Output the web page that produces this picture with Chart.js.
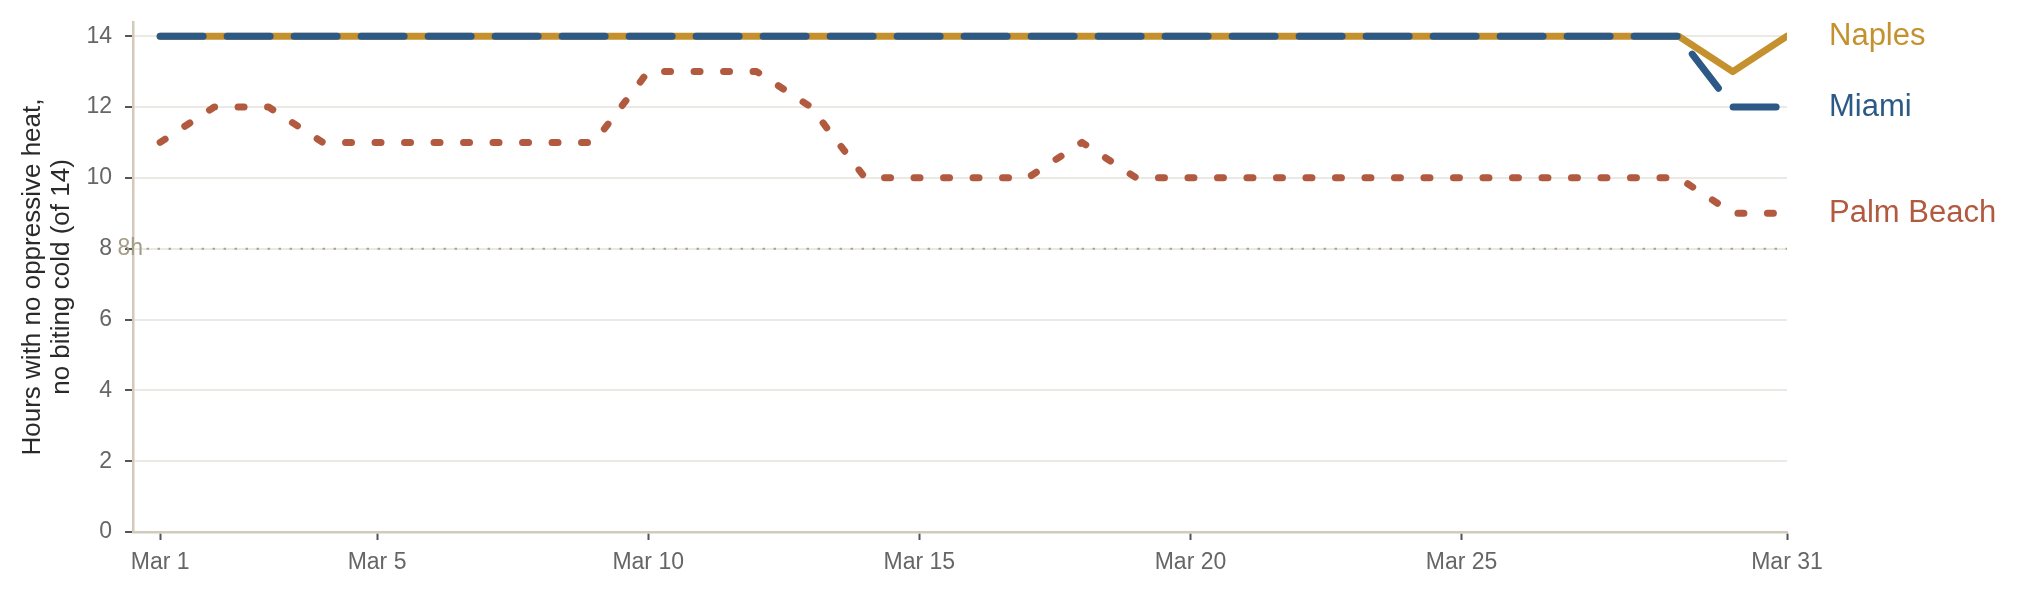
<!DOCTYPE html>
<html>
<head>
<meta charset="utf-8">
<script src="https://cdn.jsdelivr.net/npm/chart.js@4"></script>
<style>
  html, body { margin: 0; padding: 0; background: #fff; }
  canvas { display: block; }
</style>
</head>
<body>
<canvas id="chart" width="2022" height="597"></canvas>
<script>
// March days (x) and hours per city
const days = [1,2,3,4,5,6,7,8,9,10,11,12,13,14,15,16,17,18,19,20,21,22,23,24,25,26,27,28,29,30,31];
const miami     = [14,14,14,14,14,14,14,14,14,14,14,14,14,14,14,14,14,14,14,14,14,14,14,14,14,14,14,14,14,12,12];
const naples    = [14,14,14,14,14,14,14,14,14,14,14,14,14,14,14,14,14,14,14,14,14,14,14,14,14,14,14,14,14,13,14];
const palmBeach = [11,12,12,11,11,11,11,11,11,13,13,13,12,10,10,10,10,11,10,10,10,10,10,10,10,10,10,10,10,9,9];
const xTicks = [1, 5, 10, 15, 20, 25, 31];
const yTicks = [0, 2, 4, 6, 8, 10, 12, 14];
const refHours = 8;

const FONT = '"Liberation Sans", Arial, Helvetica, sans-serif';
const COL = { miami: '#2d5986', naples: '#c4912e', palm: '#b15a3f' };

const pts = arr => days.map((d, i) => ({ x: d, y: arr[i] }));

// reference line + end-of-line labels
const extras = {
    id: 'extras',
    beforeDatasetsDraw(chart) {
        const { ctx, chartArea, scales: { x, y } } = chart;
        const py = y.getPixelForValue(refHours);
        ctx.save();
        ctx.strokeStyle = '#aaa392';
        ctx.lineWidth = 2;
        ctx.setLineDash([2.5, 8.5]);
        ctx.beginPath();
        ctx.moveTo(x.getPixelForValue(0.75), py);
        ctx.lineTo(chartArea.right, py);
        ctx.stroke();
        ctx.restore();
    },
    afterDatasetsDraw(chart) {
        const { ctx, chartArea, scales: { y } } = chart;
        ctx.save();
        ctx.font = '23px ' + FONT;
        ctx.fillStyle = '#a59c86';
        ctx.textAlign = 'right';
        ctx.textBaseline = 'middle';
        ctx.fillText('8h', chartArea.left + 10, y.getPixelForValue(refHours));

        ctx.font = '31px ' + FONT;
        ctx.textAlign = 'left';
        chart.data.datasets.forEach(ds => {
            const last = ds.data[ds.data.length - 1];
            ctx.fillStyle = ds.borderColor;
            ctx.fillText(ds.label, chartArea.right + 42, y.getPixelForValue(last.y));
        });
        ctx.restore();
    }
};

new Chart(document.getElementById('chart'), {
    type: 'line',
    data: {
        datasets: [
            { label: 'Miami', data: pts(miami), borderColor: COL.miami, borderWidth: 7, borderDash: [43, 24] },
            { label: 'Naples', data: pts(naples), borderColor: COL.naples, borderWidth: 7 },
            { label: 'Palm Beach', data: pts(palmBeach), borderColor: COL.palm, borderWidth: 7, borderDash: [6, 23.5] }
        ]
    },
    options: {
        responsive: false,
        animation: false,
        devicePixelRatio: 1,
        layout: { padding: { top: 22, right: 235, bottom: 0, left: 0 } },
        elements: {
            line: { tension: 0, fill: false, borderCapStyle: 'round', borderJoinStyle: 'round' },
            point: { radius: 0, hoverRadius: 0 }
        },
        plugins: { legend: { display: false }, tooltip: { enabled: false } },
        scales: {
            x: {
                type: 'linear',
                min: 0.5,
                max: 31,
                afterBuildTicks: s => { s.ticks = xTicks.map(v => ({ value: v })); },
                afterFit: s => { s.height = 65; },
                grid: { drawOnChartArea: false, tickLength: 8, tickColor: '#555', tickWidth: 2 },
                border: { color: '#d2cabb', width: 2.5 },
                ticks: {
                    color: '#666', padding: 9, maxRotation: 0, autoSkip: false,
                    font: { family: FONT, size: 23 },
                    callback: v => 'Mar ' + v
                }
            },
            y: {
                min: 0,
                max: 14.4,
                afterBuildTicks: s => { s.ticks = yTicks.map(v => ({ value: v })); },
                afterFit: s => { s.width = 133; s.paddingTop = 0; s.paddingBottom = 0; },
                grid: { color: '#ebe9e3', lineWidth: 2, tickLength: 8, tickColor: '#555', tickWidth: 2 },
                border: { color: '#d2cabb', width: 2.5 },
                ticks: { color: '#666', padding: 13, font: { family: FONT, size: 23 } },
                title: {
                    display: true,
                    text: ['Hours with no oppressive heat,', 'no biting cold (of 14)'],
                    color: '#2a2a2a',
                    padding: { top: 19, bottom: 0 },
                    font: { family: FONT, size: 26, lineHeight: 1.1 }
                }
            }
        }
    },
    plugins: [extras]
});
</script>
</body>
</html>
